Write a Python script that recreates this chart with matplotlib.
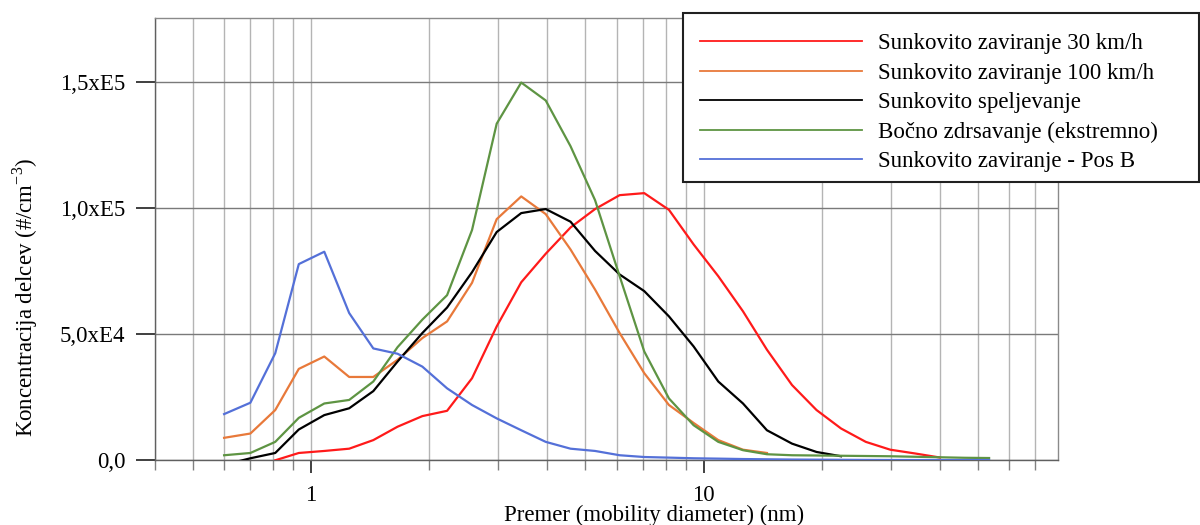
import matplotlib
matplotlib.use("Agg")
import matplotlib.pyplot as plt
from matplotlib.patches import Rectangle
from matplotlib.ticker import FixedLocator, NullFormatter, FixedFormatter

plt.rcParams['font.family'] = ['Liberation Serif', 'DejaVu Serif']
plt.rcParams['mathtext.fontset'] = 'custom'
plt.rcParams['mathtext.rm'] = 'Liberation Serif'

# mobility diameter bins (nm)
diameter = [0.60, 0.70, 0.81, 0.93, 1.08, 1.25, 1.44, 1.66, 1.92, 2.22,
            2.57, 2.97, 3.43, 3.96, 4.58, 5.29, 6.11, 7.06, 8.16, 9.43,
            10.9, 12.6, 14.5, 16.8, 19.4, 22.4, 25.9, 29.9, 34.6, 40.0,
            46.2, 53.4]

labels = ["Sunkovito zaviranje 30 km/h",
          "Sunkovito zaviranje 100 km/h",
          "Sunkovito speljevanje",
          "Bočno zdrsavanje (ekstremno)",
          "Sunkovito zaviranje - Pos B"]

# Sunkovito zaviranje 30 km/h (starts at 3rd bin, ends at 30th)
red_vals = [0, 2900, 3700, 4600, 8000, 13300, 17500, 19600,
            32500, 53000, 70500, 81800, 92200, 99500, 105000, 105800, 99200, 85500,
            72900, 59000, 43800, 29800, 19900, 12600, 7300, 4200, 2700, 1100]
# Sunkovito zaviranje 100 km/h (bins 1..23)
orange_vals = [8900, 10600, 19900, 36200, 41100, 33000, 33000, 39800, 48400, 55000,
               70300, 95500, 104500, 97500, 83500, 67600, 50400, 34500, 21900, 14800,
               8000, 4200, 2900]
# Sunkovito speljevanje (bins 1..26)
black_vals = [-1800, 800, 2900, 12200, 17900, 20600, 27400, 39100, 50400, 60500,
              74500, 90400, 97900, 99500, 94500, 82900, 73600, 67000, 57000, 45100,
              31200, 22500, 11900, 6600, 3300, 1600]
# Bočno zdrsavanje (ekstremno) (bins 1..32)
green_vals = [2000, 2900, 7300, 16800, 22500, 23900, 31200, 44800, 55700, 65400,
              91200, 133300, 149600, 142500, 124400, 103000, 72900, 43100, 24500, 13900,
              7300, 4000, 2400, 2000, 1900, 1800, 1700, 1600, 1400, 1200,
              1000, 900]
# Sunkovito zaviranje - Pos B (bins 1..32)
blue_vals = [18300, 22800, 42400, 77700, 82600, 58300, 44300, 42200, 37100, 28500,
             21900, 16600, 11900, 7300, 4600, 3700, 2000, 1300, 1060, 800,
             660, 500, 400, 300, 250, 200, 150, 120, 100, 100,
             100, 100]

red_x = diameter[2:2 + len(red_vals)]
orange_x = diameter[:len(orange_vals)]
black_x = diameter[:len(black_vals)]
green_x = diameter[:len(green_vals)]
blue_x = diameter[:len(blue_vals)]

series = [(red_x, red_vals, '#ff1a1a'),
          (orange_x, orange_vals, '#e8793a'),
          (black_x, black_vals, '#000000'),
          (green_x, green_vals, '#5e9443'),
          (blue_x, blue_vals, '#5470d8')]

ytick_vals = [0, 50000, 100000, 150000]
ytick_labels = ["0,0", "5,0xE4", "1,0xE5", "1,5xE5"]

FS = 16.5

fig = plt.figure(figsize=(12, 5.25), dpi=100)
ax = fig.add_axes([155 / 1200, 1 - 460.3 / 525, (1058 - 155) / 1200, (460.3 - 18.4) / 525])

lines = []
for (xs, ys, c), lab in zip(series, labels):
    ln, = ax.plot(xs, ys, color=c, lw=1.6, label=lab, zorder=3)
    lines.append(ln)

ax.set_xscale('log')
ax.set_xlim(0.4, 80)
ax.set_ylim(0, 175000)

minor_pos = [0.4, 0.5, 0.6, 0.7, 0.8, 0.9, 2, 3, 4, 5, 6, 7, 8, 9,
             20, 30, 40, 50, 60, 70]
ax.xaxis.set_major_locator(FixedLocator([1, 10]))
ax.xaxis.set_major_formatter(FixedFormatter(["1", "10"]))
ax.xaxis.set_minor_locator(FixedLocator(minor_pos))
ax.xaxis.set_minor_formatter(NullFormatter())
ax.set_yticks(ytick_vals)
ax.set_yticklabels(ytick_labels)

ax.grid(True, which='both', axis='x', color='#b4b4b4', lw=1.0, zorder=0)
ax.grid(True, which='major', axis='y', color='#7a7a7a', lw=1.0, zorder=0)

ax.tick_params(axis='x', which='major', length=9, width=1.2, color='#202020',
               labelsize=FS, pad=9, direction='out')
ax.tick_params(axis='x', which='minor', length=7, width=1.0, color='#808080', direction='out')
ax.tick_params(axis='y', which='major', length=14, width=1.3, color='#303030',
               labelsize=FS, pad=7.5, direction='out')

for side in ['top', 'right']:
    ax.spines[side].set_color('#8a8a8a')
    ax.spines[side].set_linewidth(1.0)
ax.spines['left'].set_color('#606060')
ax.spines['bottom'].set_color('#606060')
ax.spines['left'].set_linewidth(1.0)
ax.spines['bottom'].set_linewidth(1.0)

fig.text(654 / 1200, 1 - 515 / 525, "Premer (mobility diameter) (nm)",
         ha='center', va='center', fontsize=FS)
fig.text(25 / 1200, 1 - 297 / 525, r"Koncentracija delcev (#/cm$^{\mathregular{-3}}$)",
         ha='center', va='center', rotation=90, fontsize=FS)

# legend box
rect = Rectangle((683 / 1200, 1 - 182 / 525), (1199 - 683) / 1200, (182 - 13) / 525,
                 transform=fig.transFigure, facecolor='white', edgecolor='#202020',
                 lw=1.5, zorder=5)
fig.add_artist(rect)
leg = fig.legend(handles=lines, labels=labels, loc='upper left',
                 bbox_to_anchor=(700 / 1200, 1 - 33 / 525), frameon=False,
                 fontsize=FS, handlelength=7.07, handletextpad=0.7,
                 labelspacing=0.37, borderpad=0, borderaxespad=0)
leg.set_zorder(6)
for h in leg.legend_handles:
    h.set_linewidth(1.3)

fig.savefig("out.png", dpi=100)
